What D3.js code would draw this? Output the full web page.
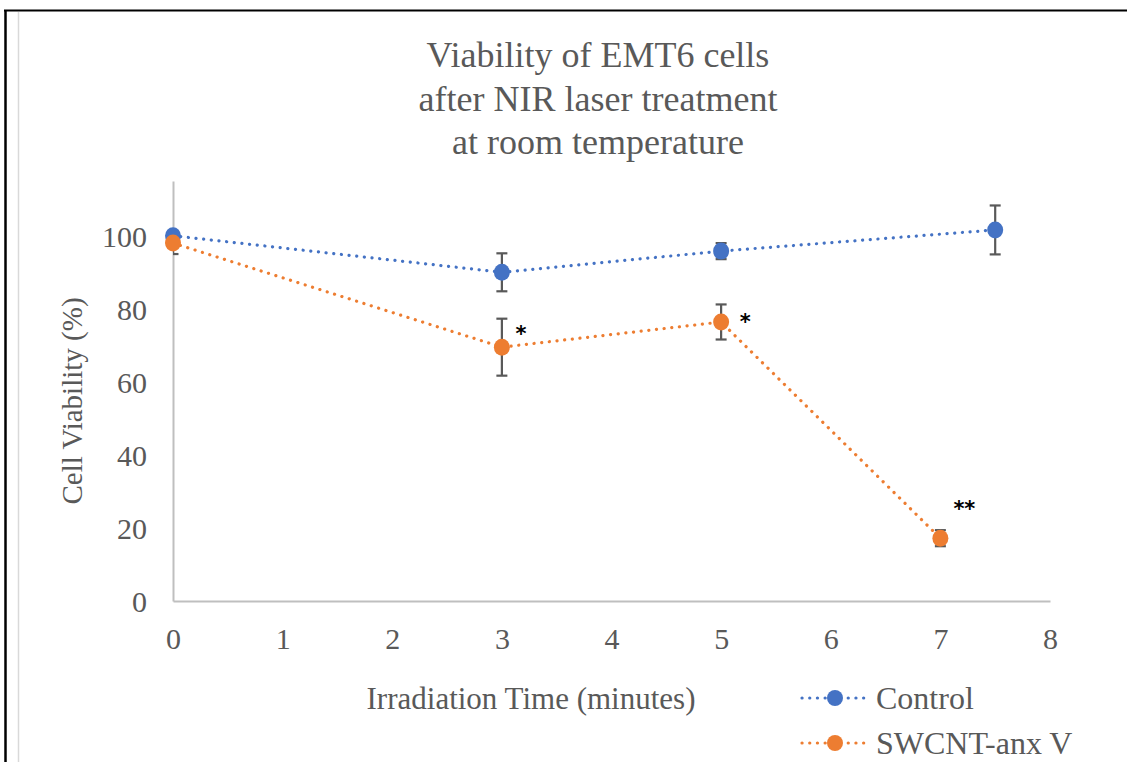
<!DOCTYPE html>
<html><head><meta charset="utf-8">
<script src="https://cdn.jsdelivr.net/npm/d3@7"></script>
<style>body{margin:0;background:#fff}svg{display:block}.serif{font-family:"Liberation Serif","Times New Roman",serif}</style>
</head><body>
<svg id="c" width="1127" height="762"></svg>
<script>
const titleLines = ["Viability of EMT6 cells", "after NIR laser treatment", "at room temperature"];
const xTicks = [0,1,2,3,4,5,6,7,8];
const yTicks = [0,20,40,60,80,100];
const controlX = [0,3,5,7.5];
const controlY = [100,90,95.8,101.6];
const controlErr = [1,5.2,2.2,6.7];
const swcntX = [0,3,5,7];
const swcntY = [98,69.5,76.4,17.2];
const swcntErr = [3,7.8,4.8,2.2];
const swcntSig = ["","*","*","**"];
const seriesNames = ["Control","SWCNT-anx V"];
const colors = ["#4472C4","#ED7D31"];

const svg = d3.select("#c");
// frame
svg.append("line").attr("x1",4).attr("x2",1127).attr("y1",10.5).attr("y2",10.5).attr("stroke","#000").attr("stroke-width",2);
svg.append("line").attr("x1",5.5).attr("x2",5.5).attr("y1",10).attr("y2",762).attr("stroke","#000").attr("stroke-width",2.5);
svg.append("line").attr("x1",18.5).attr("x2",18.5).attr("y1",12).attr("y2",762).attr("stroke","#d9d9d9").attr("stroke-width",1.5);

const x = d3.scaleLinear().domain([0,8]).range([173,1050]);
const y = d3.scaleLinear().domain([0,115]).range([601,181]);

// title
svg.append("text").attr("class","serif").attr("text-anchor","middle").style("font-size","36px").attr("fill","#595959")
  .selectAll("tspan").data(titleLines).join("tspan").attr("x",598).attr("y",(d,i)=>67+i*43.5).text(d=>d);

// axes
const gx = svg.append("g").attr("transform","translate(0,601)").call(d3.axisBottom(x).tickValues(xTicks).tickSize(0).tickPadding(27));
const gy = svg.append("g").attr("transform","translate(173,0)").call(d3.axisLeft(y).tickValues(yTicks).tickSize(0).tickPadding(26));
[gx,gy].forEach(g=>{
  g.attr("font-family",null).attr("font-size",null);
  g.select(".domain").attr("stroke","#bfbfbf").attr("stroke-width",2);
  g.selectAll("text").attr("class","serif").style("font-size","30px").attr("fill","#595959");
});
gy.selectAll("text").attr("dy","0.35em");

svg.append("text").attr("class","serif").attr("transform","translate(82,401) rotate(-90)").attr("text-anchor","middle")
  .style("font-size","29px").attr("fill","#595959").text("Cell Viability (%)");
svg.append("text").attr("class","serif").attr("x",531).attr("y",709).attr("text-anchor","middle")
  .style("font-size","31px").attr("fill","#595959").text("Irradiation Time (minutes)");

svg.append("defs").append("clipPath").attr("id","pc").append("rect").attr("x",173).attr("y",150).attr("width",900).attr("height",460);

const series = [
  {xs:controlX, ys:controlY, es:controlErr, sig:null, c:colors[0]},
  {xs:swcntX, ys:swcntY, es:swcntErr, sig:swcntSig, c:colors[1]}
];
const line = d3.line().x(d=>x(d[0])).y(d=>y(d[1]));
series.forEach(s=>{
  const pts = s.xs.map((v,i)=>[v,s.ys[i],s.es[i]]);
  svg.append("path").datum(pts).attr("d",line).attr("fill","none").attr("stroke",s.c)
    .attr("stroke-width",3.2).attr("stroke-dasharray","0.1 7.6").attr("stroke-linecap","round");
  const eb = svg.append("g").attr("clip-path","url(#pc)").attr("stroke","#595959").attr("stroke-width",2.2);
  pts.forEach(p=>{
    eb.append("line").attr("x1",x(p[0])).attr("x2",x(p[0])).attr("y1",y(p[1]+p[2])).attr("y2",y(p[1]-p[2]));
    [p[1]+p[2],p[1]-p[2]].forEach(v=>eb.append("line").attr("x1",x(p[0])-5.5).attr("x2",x(p[0])+5.5).attr("y1",y(v)).attr("y2",y(v)));
  });
});
// significance label offsets relative to the marker (label placement, not data)
const sigOffset = {1:[19,-6], 2:[24,7], 3:[24,-22]};
series.forEach(s=>{
  const pts = s.xs.map((v,i)=>[v,s.ys[i]]);
  svg.append("g").selectAll("ellipse").data(pts).join("ellipse").attr("cx",d=>x(d[0])).attr("cy",d=>y(d[1]))
    .attr("rx",8).attr("ry",8.5).attr("fill",s.c);
  if(s.sig){
    svg.append("g").selectAll("text").data(pts.map((p,i)=>[p[0],p[1],s.sig[i],i]).filter(d=>d[2]))
      .join("text").attr("x",d=>x(d[0])+sigOffset[d[3]][0]).attr("y",d=>y(d[1])+sigOffset[d[3]][1])
      .attr("text-anchor","middle").style("font-family","'DejaVu Sans',sans-serif").attr("font-weight","bold")
      .style("font-size","21px").attr("fill","#000").text(d=>d[2]);
  }
});

// legend
seriesNames.forEach((n,i)=>{
  const ly = 698 + i*45;
  const g = svg.append("g");
  g.append("line").attr("x1",802).attr("x2",870).attr("y1",ly).attr("y2",ly).attr("stroke",colors[i])
    .attr("stroke-width",3.2).attr("stroke-dasharray","0.1 7.6").attr("stroke-linecap","round");
  g.append("ellipse").attr("cx",835).attr("cy",ly).attr("rx",8).attr("ry",8).attr("fill",colors[i]);
  g.append("text").attr("class","serif").attr("x",876).attr("y",ly).attr("dy","0.35em").style("font-size","32px").attr("fill","#595959").text(n);
});
</script>
</body></html>
